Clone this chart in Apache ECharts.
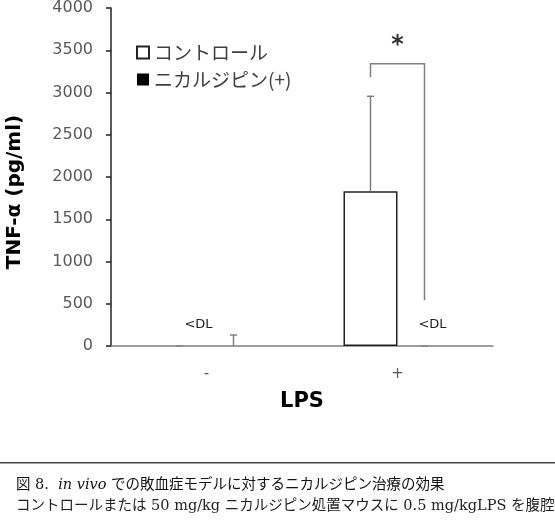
<!DOCTYPE html>
<html>
<head>
<meta charset="utf-8">
<script src="https://cdn.jsdelivr.net/npm/echarts@6/dist/echarts.min.js"></script>
<style>
  html, body { margin: 0; padding: 0; background: #fff; }
  #chart { width: 555px; height: 532px; }
</style>
</head>
<body>
<div id="chart"></div>
<script>
// LPS 投与の有無
const categories = ['-', '+']
const seriesNames = ['コントロール', 'ニカルジピン(+)']
// TNF-α 平均値 (pg/ml) — <DL は 0 扱い
const controlMean = [0, 1830]
const nicardMean = [0, 0]
// 標準偏差
const controlErr = [0, 1125]
const nicardErr = [130, 0]
// 有意差ブラケット: [カテゴリ, 左脚下端, 上端, 右脚下端]
const bracket = [[1, 3180, 3340, 540]]
const yTicks = { min: 0, max: 4000, interval: 500 }

const BAR_W = 54
const GRAY = '#808080'
const SANS = '"DejaVu Sans", "Noto Sans CJK JP", sans-serif'
const JP = '"Noto Sans CJK JP", sans-serif'
const SERIF = '"DejaVu Serif", "Noto Sans CJK JP", serif'

const chart = echarts.init(document.getElementById('chart'))

// エラーバー(バーの中心から上へ)
function errorItem(side) {
  return (params, api) => {
    const idx = api.value(0)
    const base = api.coord([idx, api.value(1)])
    const top = api.coord([idx, api.value(1) + api.value(2)])
    const x = base[0] + side * BAR_W / 2
    const style = { stroke: GRAY, lineWidth: 1.5 }
    return {
      type: 'group',
      children: [
        { type: 'line', shape: { x1: x, y1: base[1], x2: x, y2: top[1] }, style },
        { type: 'line', shape: { x1: x - 3.5, y1: top[1], x2: x + 3.5, y2: top[1] }, style }
      ]
    }
  }
}

function bracketItem(params, api) {
  const idx = api.value(0)
  const yl = api.coord([idx, api.value(1)])[1]
  const yt = api.coord([idx, api.value(2)])
  const yr = api.coord([idx, api.value(3)])[1]
  const x0 = yt[0] - BAR_W / 2, x1 = yt[0] + BAR_W / 2
  return {
    type: 'group',
    children: [
      { type: 'polyline', shape: { points: [[x0, yl], [x0, yt[1]], [x1, yt[1]], [x1, yr]] },
        style: { stroke: GRAY, lineWidth: 1.5, fill: null } },
      { type: 'text', x: yt[0], y: yt[1] - 6,
        style: { text: '*', fontSize: 24, fontWeight: 'bold', fontFamily: SANS, fill: '#333',
          align: 'center', verticalAlign: 'bottom' } }
    ]
  }
}

const dlLabel = (dx) => ({
  show: true, position: 'top', distance: 15, offset: [dx, 0],
  formatter: '<DL', color: '#222', fontSize: 13, fontFamily: SANS
})

// 0 のバーは枠線も塗りも描かない(軸線だけ見える)
function barData(values, labelIdx, dx) {
  return values.map((v, i) => {
    const item = { value: v }
    if (v === 0) item.itemStyle = { borderWidth: 0, color: 'rgba(0,0,0,0)' }
    if (i === labelIdx) item.label = dlLabel(dx)
    return item
  })
}

chart.setOption({
  animation: false,
  grid: { left: 111, right: 62, top: 6, bottom: 186 },
  legend: {
    orient: 'vertical', left: 131, top: 38,
    icon: 'rect',
    itemWidth: 12, itemHeight: 12, itemGap: 8,
    data: seriesNames,
    textStyle: { fontSize: 19, color: '#404040', fontFamily: JP }
  },
  xAxis: {
    type: 'category',
    data: categories,
    axisLine: { lineStyle: { color: GRAY, width: 1.5 } },
    axisTick: { show: false },
    axisLabel: { color: '#595959', fontSize: 15, fontFamily: SANS, margin: 21 },
    name: 'LPS', nameLocation: 'middle', nameGap: 45,
    nameTextStyle: { fontSize: 21, fontWeight: 'bold', color: '#000', fontFamily: SANS }
  },
  yAxis: {
    type: 'value',
    ...yTicks,
    axisLine: { show: true, lineStyle: { color: '#222', width: 1.5 } },
    axisTick: { show: true, length: 5, lineStyle: { color: '#222', width: 1.5 } },
    axisLabel: { color: '#595959', fontSize: 16, fontFamily: SANS, margin: 18, formatter: v => String(v) },
    splitLine: { show: false }
  },
  series: [
    {
      name: seriesNames[0], type: 'bar', barWidth: BAR_W, barGap: '0%',
      itemStyle: { color: '#fff', borderColor: '#222', borderWidth: 1.5 },
      data: barData(controlMean, 0, 19)
    },
    {
      name: seriesNames[1], type: 'bar', barWidth: BAR_W, barGap: '0%',
      itemStyle: { color: '#000' },
      data: barData(nicardMean, 1, 8)
    },
    {
      type: 'custom', renderItem: errorItem(-1), z: 5,
      encode: { x: 0, y: 1 },
      data: controlMean.map((v, i) => [i, v, controlErr[i]])
    },
    {
      type: 'custom', renderItem: errorItem(1), z: 5,
      encode: { x: 0, y: 1 },
      data: nicardMean.map((v, i) => [i, v, nicardErr[i]])
    },
    {
      type: 'custom', renderItem: bracketItem, z: 5,
      encode: { x: 0, y: 2 },
      data: bracket
    }
  ],
  graphic: [
    {
      type: 'text', x: 15, y: 192, rotation: Math.PI / 2,
      style: { text: 'TNF-α (pg/ml)', fontSize: 20, fontWeight: 'bold', fill: '#000',
        fontFamily: SANS, align: 'center', verticalAlign: 'middle' }
    },
    {
      type: 'rect', shape: { x: 0, y: 462, width: 555, height: 1.5 },
      style: { fill: '#444' }
    },
    {
      type: 'text', x: 16, y: 485,
      style: {
        text: '{a|図 8.  }{i|in vivo}{a| での敗血症モデルに対するニカルジピン治療の効果}',
        verticalAlign: 'middle',
        rich: {
          a: { fontSize: 14.5, fontFamily: SERIF, fill: '#111' },
          i: { fontSize: 14.5, fontStyle: 'italic', fontFamily: SERIF, fill: '#111' }
        }
      }
    },
    {
      type: 'text', x: 16, y: 506,
      style: {
        text: 'コントロールまたは 50 mg/kg ニカルジピン処置マウスに 0.5 mg/kgLPS を腹腔内投与し',
        verticalAlign: 'middle', fontSize: 14.5, fill: '#222', fontFamily: SERIF
      }
    }
  ]
})
</script>
</body>
</html>
